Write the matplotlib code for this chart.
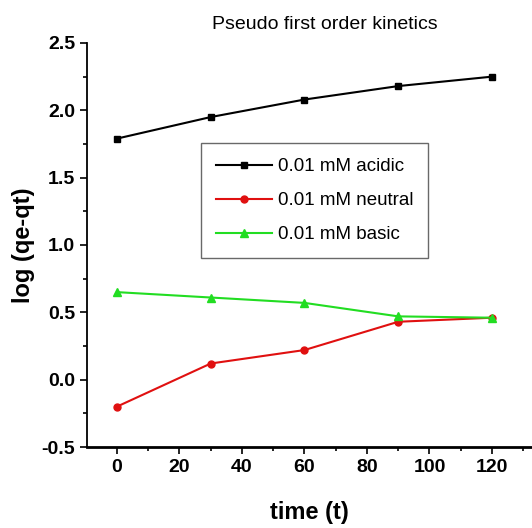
import matplotlib

matplotlib.use("Agg")
import matplotlib.pyplot as plt
from matplotlib.ticker import MultipleLocator

plt.rcParams["font.family"] = ["Liberation Sans", "DejaVu Sans"]
plt.rcParams["axes.unicode_minus"] = False

# values
time_t = [0, 30, 60, 90, 120]
acidic = [1.79, 1.95, 2.08, 2.18, 2.25]
neutral = [-0.20, 0.12, 0.22, 0.43, 0.46]
basic = [0.65, 0.61, 0.57, 0.47, 0.46]
labels = ["0.01 mM acidic", "0.01 mM neutral", "0.01 mM basic"]

fig = plt.figure(figsize=(5.32, 5.28), dpi=100)
ax = fig.add_axes([0.1635, 0.1534, 0.8365, 0.7652])

ax.plot(time_t, acidic, color="black", marker="s", ms=5, lw=1.5, label=labels[0])
ax.plot(time_t, neutral, color="#e01010", marker="o", ms=5, lw=1.5, label=labels[1])
ax.plot(time_t, basic, color="#22dd22", marker="^", ms=6, lw=1.5, label=labels[2])

ax.set_xlim(-9.6, 132.8)
ax.set_ylim(-0.5, 2.5)
ax.xaxis.set_major_locator(MultipleLocator(20))
ax.xaxis.set_minor_locator(MultipleLocator(10))
ax.yaxis.set_major_locator(MultipleLocator(0.5))
ax.yaxis.set_minor_locator(MultipleLocator(0.25))
ax.tick_params(which="both", direction="out", labelsize=14, width=1.2)
ax.tick_params(which="major", length=5)
ax.tick_params(which="minor", length=3)
for lab in ax.get_xticklabels() + ax.get_yticklabels():
    lab.set_fontweight("bold")

for side in ("top", "right"):
    ax.spines[side].set_visible(False)
ax.spines["left"].set_linewidth(1.3)
ax.spines["bottom"].set_linewidth(2.0)

ax.set_xlabel("time (t)", fontsize=17, fontweight="bold", labelpad=18)
ax.set_ylabel("log (qe-qt)", fontsize=17, fontweight="bold", labelpad=5)
fig.text(0.61, 0.953, "Pseudo first order kinetics", ha="center", va="center",
         fontsize=14)

leg = ax.legend(loc="upper left", bbox_to_anchor=(0.256, 0.752), fontsize=13.5,
                frameon=True, fancybox=False, edgecolor="#444444",
                borderaxespad=0, handlelength=3.0, handletextpad=0.3,
                borderpad=0.8, labelspacing=0.9)
leg.get_frame().set_linewidth(1.0)

fig.savefig("out.png", dpi=100)
